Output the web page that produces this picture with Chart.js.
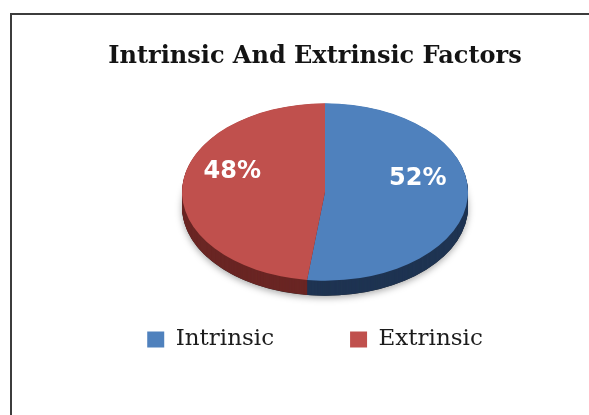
<!DOCTYPE html>
<html><head><meta charset="utf-8">
<script src="https://cdn.jsdelivr.net/npm/chart.js@4"></script>
<style>
html,body{margin:0;padding:0;background:#fff;overflow:hidden;}
#wrap{position:relative;width:589px;height:415px;overflow:hidden;}
#frame{position:absolute;left:10px;top:13px;width:640px;height:460px;border-top:2px solid #3c3c3c;border-left:2px solid #3c3c3c;pointer-events:none;}
canvas{position:absolute;left:0;top:0;}
</style></head>
<body><div id="wrap"><canvas id="c" width="589" height="415"></canvas><div id="frame"></div></div>
<script>
const categories = ['Intrinsic', 'Extrinsic'];
const values = [52, 48];
const topColors = ['#4F81BD', '#C0504D'];
const sideColors = ['#1F3452', '#6A2624'];
const chartTitle = 'Intrinsic And Extrinsic Factors';

const TILT = 0.62, DEPTH = 15, CENTER = {x: 325, y: 192}, LABEL_DY = -17;

const pie3d = {
  id: 'pie3d',
  beforeDatasetsDraw(chart) {
    const meta = chart.getDatasetMeta(0);
    const ctx = chart.ctx;
    const a0 = meta.data[0];
    const cx = a0.x, cy = a0.y;
    ctx.save();
    ctx.translate(CENTER.x, CENTER.y);
    ctx.scale(1, TILT);
    ctx.translate(-cx, -cy);
    ctx.save();
    ctx.shadowColor = 'rgba(0,0,0,0.35)';
    ctx.shadowBlur = 7;
    ctx.shadowOffsetY = 2;
    ctx.beginPath();
    ctx.arc(cx, cy + DEPTH / TILT, a0.outerRadius, 0, Math.PI * 2);
    ctx.fillStyle = '#2a2a2a';
    ctx.fill();
    ctx.restore();
    for (let d = DEPTH; d >= 0.5; d -= 0.5) {
      meta.data.forEach((arc, i) => {
        ctx.beginPath();
        ctx.moveTo(cx, cy + d / TILT);
        ctx.arc(cx, cy + d / TILT, arc.outerRadius, arc.startAngle, arc.endAngle);
        ctx.closePath();
        ctx.fillStyle = sideColors[i];
        ctx.fill();
      });
    }
  },
  afterDatasetsDraw(chart) {
    const ctx = chart.ctx;
    ctx.restore();
    const meta = chart.getDatasetMeta(0);
    const total = values.reduce((a, b) => a + b, 0);
    ctx.save();
    ctx.fillStyle = '#ffffff';
    ctx.font = 'bold 24px "DejaVu Sans"';
    ctx.textAlign = 'center';
    ctx.textBaseline = 'middle';
    meta.data.forEach((arc, i) => {
      const mid = (arc.startAngle + arc.endAngle) / 2;
      const r = arc.outerRadius * 0.65;
      const x = CENTER.x + Math.cos(mid) * r;
      const y = CENTER.y + Math.sin(mid) * r * TILT + LABEL_DY;
      ctx.fillText(Math.round(values[i] / total * 100) + '%', x, y);
    });
    ctx.restore();
  }
};

new Chart(document.getElementById('c'), {
  type: 'pie',
  data: {
    labels: categories,
    datasets: [{
      data: values,
      backgroundColor: topColors,
      borderWidth: 0,
      radius: 143,
      clip: false
    }]
  },
  options: {
    responsive: false,
    animation: false,
    devicePixelRatio: 1,
    events: [],
    layout: {padding: {left: 41, right: 0, top: 0, bottom: 54}},
    plugins: {
      title: {
        display: true,
        text: chartTitle,
        color: '#141414',
        font: {family: '"DejaVu Serif"', size: 24, weight: 'bold'},
        padding: {top: 42, bottom: 0}
      },
      legend: {
        position: 'bottom',
        labels: {
          boxWidth: 17,
          boxHeight: 16,
          padding: 76,
          color: '#1c1c1c',
          font: {family: '"DejaVu Serif"', size: 23}
        }
      },
      tooltip: {enabled: false}
    }
  },
  plugins: [pie3d]
});
</script>
</body></html>
